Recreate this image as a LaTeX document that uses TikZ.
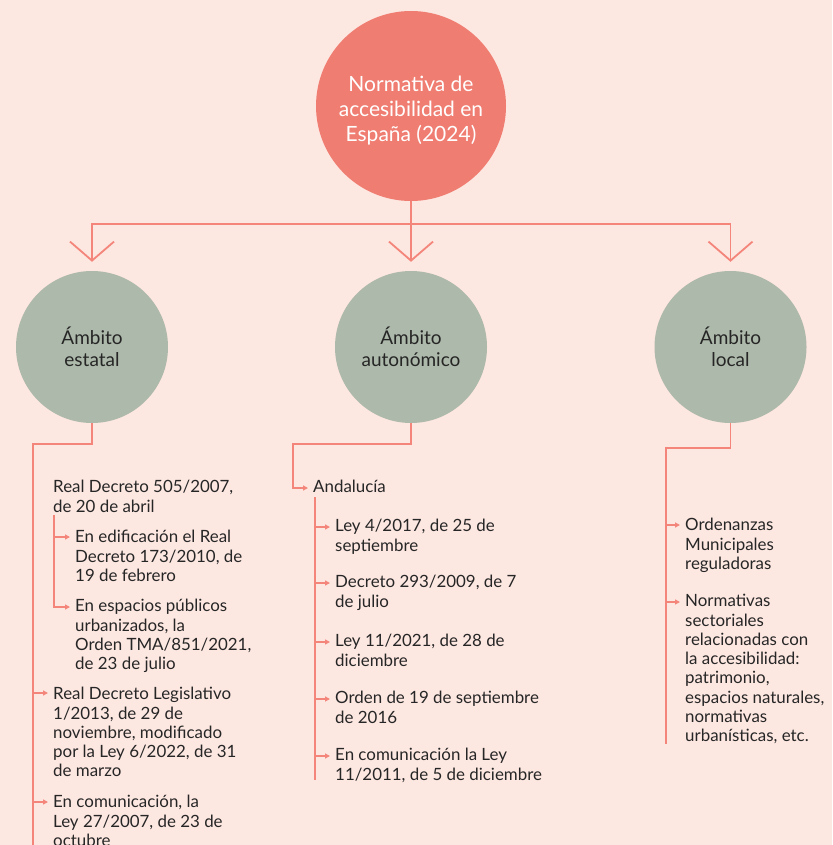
\documentclass[tikz,border=0pt]{standalone}
\usepackage{fontspec}
\setmainfont{Lato}
\usetikzlibrary{arrows.meta}
\definecolor{bgcol}{HTML}{FDE7E1}
\definecolor{salmon}{HTML}{F07D71}
\definecolor{linecol}{HTML}{F4857A}
\definecolor{sage}{HTML}{ADB9AA}
\definecolor{textcol}{HTML}{262626}
\tikzset{
  topcirc/.style={circle, fill=salmon, minimum size=190pt, inner sep=0pt},
  toptext/.style={inner sep=0pt, text=white, align=center, font=\fontsize{21}{25}\selectfont},
  sagecirc/.style={circle, fill=sage, minimum size=152pt, inner sep=0pt, text=textcol, align=center, font=\fontsize{19}{22.5}\selectfont},
  txt/.style={anchor=north west, inner sep=0pt, align=left, text=textcol, font=\fontsize{16.9}{19.3}\selectfont},
  conn/.style={draw=linecol, line width=1.8pt},
  barb/.style={conn, -{Straight Barb[length=19pt, width=44pt, line width=1.8pt]}, shorten >=9pt},
  arr/.style={draw=linecol, line width=1.6pt, -{Triangle[length=5pt, width=5pt]}},
}
\begin{document}
\begin{tikzpicture}[x=1pt, y=-1pt]
\fill[bgcol] (0,0) rectangle (832,845);
\useasboundingbox (0,0) rectangle (832,845);

\node[topcirc] (top) at (411,106) {};
\node[toptext] (toptxt) at (411,111) {Normativa de\\accesibilidad en\\España (2024)};
\node[sagecirc] (est) at (92,347) {Ámbito\\estatal};
\node[sagecirc] (aut) at (411,347) {Ámbito\\autonómico};
\node[sagecirc] (loc) at (730.5,347) {Ámbito\\local};

\coordinate (hj) at (411,224);
\draw[barb] (top.south) -- (aut.north);
\draw[barb] (hj) -| (est.north);
\draw[barb] (hj) -| (loc.north);

% Estatal column
\node[txt] (l1) at (53,479) {\strut Real Decreto 505/2007,\\de 20 de abril};
\node[txt] (l2) at (75,529) {\strut En edificación el Real\\Decreto 173/2010, de\\19 de febrero};
\node[txt] (l3) at (75,598) {\strut En espacios públicos\\urbanizados, la\\Orden TMA/851/2021,\\de 23 de julio};
\node[txt] (l4) at (53,686) {\strut Real Decreto Legislativo\\1/2013, de 29 de\\noviembre, modificado\\por la Ley 6/2022, de 31\\de marzo};
\node[txt] (l5) at (53,794) {\strut En comunicación, la\\Ley 27/2007, de 23 de\\octubre};

\coordinate (ltrunk) at (33,444);
\coordinate (lend) at (33,846);
\draw[conn] (est.south) |- (ltrunk) -- (lend);
\coordinate (lsub) at (54,515);
\draw[conn] (lsub) -- (54,608);
\draw[arr] ([xshift=-21pt,yshift=-8pt]l2.north west) -- ([xshift=-5pt,yshift=-8pt]l2.north west);
\draw[arr] ([xshift=-21pt,yshift=-9pt]l3.north west) -- ([xshift=-5pt,yshift=-9pt]l3.north west);
\draw[arr] ([xshift=-20pt,yshift=-7pt]l4.north west) -- ([xshift=-5pt,yshift=-7pt]l4.north west);
\draw[arr] ([xshift=-20pt,yshift=-8pt]l5.north west) -- ([xshift=-5pt,yshift=-8pt]l5.north west);

% Autonomico column
\node[txt] (m0) at (313,479) {\strut Andalucía};
\node[txt] (m1) at (335,518) {\strut Ley 4/2017, de 25 de\\septiembre};
\node[txt] (m2) at (335,574) {\strut Decreto 293/2009, de 7\\de julio};
\node[txt] (m3) at (335,633) {\strut Ley 11/2021, de 28 de\\diciembre};
\node[txt] (m4) at (335,690) {\strut Orden de 19 de septiembre\\de 2016};
\node[txt] (m5) at (335,747) {\strut En comunicación la Ley\\11/2011, de 5 de diciembre};

\draw[arr] (aut.south) -- (411,444) -- (293,444) -- (293,488) -- ([xshift=-5pt,yshift=-9pt]m0.north west);
\coordinate (msub) at (315,497);
\draw[conn] (msub) -- (315,780);
\foreach \n in {m1,m2,m3,m4,m5}{
  \draw[arr] ([xshift=-21pt,yshift=-9pt]\n.north west) -- ([xshift=-5pt,yshift=-9pt]\n.north west);
}

% Local column
\node[txt] (r1) at (685,517) {\strut Ordenanzas\\Municipales\\reguladoras};
\node[txt] (r2) at (685,593) {\strut Normativas\\sectoriales\\relacionadas con\\la accesibilidad:\\patrimonio,\\espacios naturales,\\normativas\\urbanísticas, etc.};
\coordinate (rtrunk) at (666,448);
\draw[conn] (loc.south) |- (rtrunk) -- (666,744);
\draw[arr] ([xshift=-19pt,yshift=-8pt]r1.north west) -- ([xshift=-5pt,yshift=-8pt]r1.north west);
\draw[arr] ([xshift=-19pt,yshift=-9pt]r2.north west) -- ([xshift=-5pt,yshift=-9pt]r2.north west);
\end{tikzpicture}
\end{document}
